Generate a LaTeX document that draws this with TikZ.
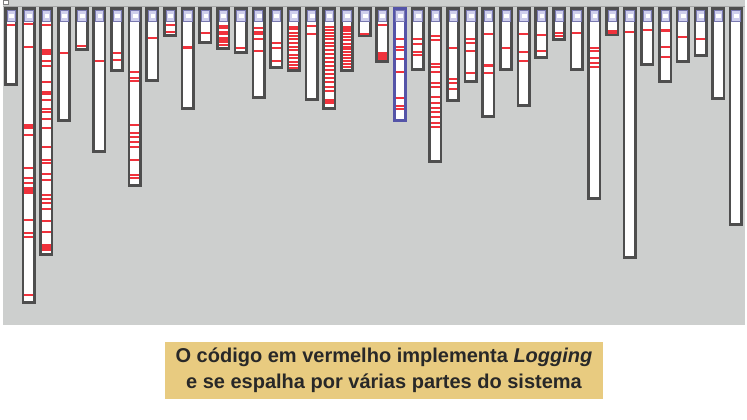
\documentclass[tikz,border=0pt]{standalone}
\usepackage{fontspec}
\newfontfamily\capfont{Liberation Sans}
\definecolor{panelgray}{RGB}{205,207,206}
\definecolor{colframe}{RGB}{78,78,78}
\definecolor{selframe}{RGB}{84,84,168}
\definecolor{hdrfill}{RGB}{206,206,236}
\definecolor{hdrline}{RGB}{120,120,175}
\definecolor{logred}{RGB}{240,50,60}
\definecolor{captan}{RGB}{232,203,128}
\definecolor{captext}{RGB}{40,40,40}

\tikzset{
  colbox/.style={draw=colframe, line width=2.6pt, fill=white},
  hdr/.style={draw=hdrline, line width=0.6pt, fill=hdrfill},
  redline/.style={draw=logred, line width=1.1pt},
}

\begin{document}
\begin{tikzpicture}[x=1pt,y=-1pt]
  \useasboundingbox (0,0) rectangle (747,420);
  \fill[white] (0,0) rectangle (747,420);
  \fill[panelgray] (3,0) rectangle (745,325);
  \draw[colframe!50, line width=0.6pt] (3,6) -- (745,6);
  \draw[gray, fill=white, line width=0.5pt] (3,0) rectangle (8,4);

  % one column per class, red = logging code
  \foreach \i/\bot/\marks in {
    1/86/{25},
    2/304/{24,47,125,126,127,128,135,168,178,183,188,189,190,191,192,193,220,233,237,295},
    3/256/{25,50,52,54,61,66,82,92,94,100,109,112,119,128,147,160,163,174,180,195,199,203,209,221,232,245,246,247,248,249,250},
    4/122/{53}, 5/51/{46}, 6/153/{61}, 7/72/{53,60},
    8/187/{72,78,81,125,133,137,142,147,160,175,178},
    9/82/{38}, 10/37/{25,32}, 11/110/{47,48}, 12/44/{33},
    13/50/{26,28,32,34,38,39,40,41,42,45},
    14/54/{48}, 15/99/{28,32,34,39,51}, 16/69/{43,48,61},
    17/72/{27,29,33,36,39,43,47,50,55,58,62,65,68},
    18/101/{26,34},
    19/110/{27,30,33,36,39,43,46,50,54,58,62,66,70,74,78,82,87,91,100,101,102,103},
    20/72/{27,29,31,34,37,40,44,47,49,52,55,58,61,64,67},
    21/37/{34}, 22/63/{25,53,55,57,59},
    23/122/{39,47,50,59,72,98,106,109},
    24/71/{39,44,52,55},
    25/163/{36,40,64,67,72,83,87,97,103,108,112,117,123,127},
    26/102/{48,79,83,89}, 27/83/{39,43,51,73}, 28/118/{34,65,66,73},
    29/71/{48}, 30/107/{34,52,61}, 31/59/{35,51}, 32/41/{33,36},
    33/71/{33}, 34/200/{48,51,58,63,67}, 35/36/{31,32,33},
    36/259/{32}, 37/66/{30}, 38/83/{30,31,47,57}, 39/63/{37},
    40/57/{39}, 41/100/{0}, 42/226/{0}}{
    \pgfmathsetmacro{\xl}{4+(\i-1)*17.68}
    \pgfmathsetmacro{\xr}{\xl+14}
    \ifnum\i=23 \def\fr{selframe}\else\def\fr{colframe}\fi
    \draw[colbox, draw=\fr] (\xl+1.3,8.3) rectangle (\xr-1.3,\bot-1.3);
    \foreach \y in \marks {
      \ifnum\y>0 \draw[redline] (\xl+2.6,\y) -- (\xr-2.6,\y); \fi
    }
    \draw[hdr] (\xl+2.8,10) rectangle (\xr-2.8,21);
    \fill[white] (\xl+5.2,14) rectangle (\xr-4,18.5);
  }

  \node[fill=captan, minimum width=438pt, minimum height=57pt, inner sep=0pt,
        align=center, text=captext,
        font=\capfont\bfseries\fontsize{20}{26}\selectfont] (caption) at (384,370.5)
    {O código em vermelho implementa \textit{Logging}\\e se espalha por várias partes do sistema};
\end{tikzpicture}
\end{document}
